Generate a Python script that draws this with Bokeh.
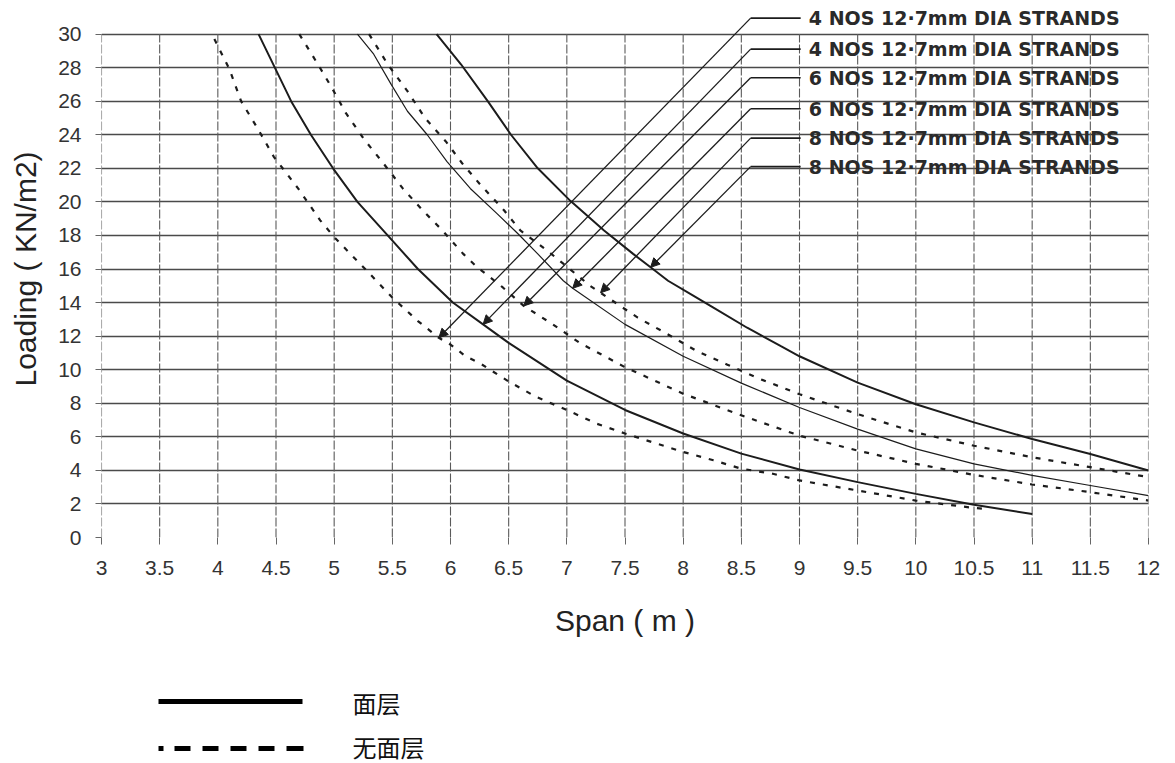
import numpy as np
from bokeh.plotting import figure
from bokeh.models import Range1d, FixedTicker, Arrow, NormalHead, CustomJSTickFormatter
from bokeh.layouts import column
from bokeh.core.properties import value
from bokeh.embed import file_html
from bokeh.resources import INLINE

# ---------------- data ----------------
x_ticks = [3, 3.5, 4, 4.5, 5, 5.5, 6, 6.5, 7, 7.5, 8, 8.5, 9, 9.5, 10, 10.5, 11, 11.5, 12]
y_ticks = [0, 2, 4, 6, 8, 10, 12, 14, 16, 18, 20, 22, 24, 26, 28, 30]

# 4 NOS, with topping (solid)
s4_x = [4.35, 4.49, 4.63, 4.8, 4.99, 5.2, 5.46, 5.72, 6.02, 6.28, 6.5, 7.0, 7.5, 8.0, 8.5, 9.0, 9.5, 10.0, 10.5, 11.0]
s4_y = [30, 28, 26, 24, 22, 20, 18, 16, 14, 12.7, 11.6, 9.35, 7.6, 6.2, 5.0, 4.05, 3.3, 2.6, 1.95, 1.4]
# 4 NOS, without topping (dashed)
d4_x = [3.97, 4.1, 4.2, 4.34, 4.48, 4.69, 4.88, 5.0, 5.28, 5.5, 5.72, 5.9, 6.0, 6.13, 6.26, 6.5, 6.73, 7.0, 7.25,
        7.5, 7.77, 8.0, 8.26, 8.5, 8.77, 9.0, 9.5, 10.0, 10.5, 10.6]
d4_y = [29.7, 27.9, 26, 24.4, 22.7, 20.8, 18.9, 17.9, 15.9, 14.3, 12.9, 11.9, 11.5, 10.8, 10.35, 9.3, 8.4, 7.6, 6.8,
        6.2, 5.6, 5.1, 4.6, 4.1, 3.8, 3.4, 2.8, 2.2, 1.76, 1.7]
# 6 NOS, with topping (solid, thin)
s6_x = [5.2, 5.34, 5.49, 5.63, 5.8, 5.97, 6.17, 6.4, 6.58, 6.75, 6.97, 7.05, 7.5, 8.0, 8.5, 9.0, 9.5, 10.0, 10.5, 11.0, 11.5, 12.0]
s6_y = [30, 28.8, 27.0, 25.4, 24.0, 22.4, 20.8, 19.3, 18.1, 16.9, 15.3, 14.85, 12.7, 10.8, 9.2, 7.75, 6.46, 5.28, 4.39, 3.7, 3.1, 2.5]
# 6 NOS, without topping (dashed)
d6_x = [4.7, 4.86, 4.98, 5.1, 5.26, 5.4, 5.49, 5.59, 5.76, 5.93, 6.11, 6.23, 6.36, 6.45, 6.63, 6.88, 7.11, 7.5, 8.0,
        8.5, 9.0, 9.5, 10.0, 10.5, 11.0, 11.5, 12.0]
d6_y = [30, 28.2, 26.8, 25.3, 23.7, 22.5, 21.7, 20.8, 19.5, 18.3, 16.9, 16.1, 15.4, 14.9, 13.8, 12.7, 11.6, 10.15, 8.57,
        7.28, 6.07, 5.18, 4.39, 3.73, 3.16, 2.7, 2.2]
# 8 NOS, with topping (solid)
s8_x = [5.88, 6.09, 6.32, 6.52, 6.75, 7.03, 7.32, 7.57, 7.72, 7.87, 8.09, 8.26, 8.55, 8.84, 9.0, 9.5, 10.0, 10.5, 11.0, 11.5, 12.0]
s8_y = [30, 28.2, 26, 24, 22, 20.06, 18.3, 16.9, 16.1, 15.3, 14.4, 13.7, 12.5, 11.4, 10.8, 9.23, 7.94, 6.86, 5.87, 4.98, 3.99]
# 8 NOS, without topping (dashed)
d8_x = [5.3, 5.46, 5.63, 5.78, 5.96, 6.1, 6.26, 6.46, 6.6, 6.83, 6.92, 7.2, 7.61, 7.87, 8.12, 8.38, 8.64, 9.0, 9.5,
        10.0, 10.5, 11.0, 11.5, 12.0]
d8_y = [30, 28.2, 26.6, 25, 23.6, 22.3, 21, 19.5, 18.3, 17.1, 16.6, 15.0, 13.1, 12.1, 11.1, 10.3, 9.5, 8.54, 7.35,
        6.26, 5.47, 4.78, 4.19, 3.6]

strand_labels = ["4 NOS 12·7mm DIA STRANDS", "4 NOS 12·7mm DIA STRANDS", "6 NOS 12·7mm DIA STRANDS",
                 "6 NOS 12·7mm DIA STRANDS", "8 NOS 12·7mm DIA STRANDS", "8 NOS 12·7mm DIA STRANDS"]
legend_labels = ["面层", "无面层"]

# ---------------- main figure ----------------
INK = "#1c1c1c"
W = 1168
BL, BR = 101, 20
p = figure(width=W, height=660, x_range=Range1d(3, 12), y_range=Range1d(0, 32.0),
           output_backend="svg", toolbar_location=None,
           min_border_left=BL, min_border_right=BR, min_border_top=0, min_border_bottom=123)
p.outline_line_color = None

p.xgrid.visible = False
p.ygrid.ticker = FixedTicker(ticks=y_ticks)
p.ygrid.grid_line_color = "#4a4a4a"
p.ygrid.grid_line_width = 1.3

# vertical grid lines only up to 30
p.segment(x0=x_ticks, y0=[y_ticks[0]] * len(x_ticks), x1=x_ticks, y1=[y_ticks[-1]] * len(x_ticks),
          line_color="#5a5a5a", line_width=1.1, line_dash="9 2")

p.xaxis.ticker = FixedTicker(ticks=x_ticks)
p.yaxis.ticker = FixedTicker(ticks=y_ticks)
p.xaxis.formatter = CustomJSTickFormatter(code="return String(tick);")
for ax in (p.xaxis[0], p.yaxis[0]):
    ax.axis_line_color = None
    ax.major_tick_line_color = "#666666"
    ax.minor_tick_line_color = None
    ax.major_tick_in = 0
    ax.major_label_text_font = "Liberation Sans"
    ax.major_label_text_font_size = "21px"
    ax.major_label_text_color = "#333333"
    ax.axis_label_text_font = "Liberation Sans"
    ax.axis_label_text_font_style = "normal"
    ax.axis_label_text_color = "#222222"
p.xaxis.major_tick_out = 7
p.xaxis.major_label_standoff = 16
p.yaxis.major_tick_out = 6
p.yaxis.major_label_standoff = 14
p.xaxis.axis_label = "Span ( m )"
p.xaxis.axis_label_text_font_size = "30px"
p.xaxis.axis_label_standoff = 26
p.yaxis.axis_label = "Loading ( KN/m2)"
p.yaxis.axis_label_text_font_size = "30px"
p.yaxis.axis_label_standoff = 13

# curves
p.line(s4_x, s4_y, line_color=INK, line_width=2.0)
p.line(s6_x, s6_y, line_color=INK, line_width=1.2)
p.line(s8_x, s8_y, line_color=INK, line_width=2.0)
p.line(d4_x, d4_y, line_color=INK, line_width=2.2, line_dash="5 8")
p.line(d6_x, d6_y, line_color=INK, line_width=2.2, line_dash="5 8")
p.line(d8_x, d8_y, line_color=INK, line_width=2.2, line_dash="5 8")

# leaders with arrows pointing at the curves
curves_in_label_order = [(d4_x, d4_y), (s4_x, s4_y), (d6_x, d6_y), (s6_x, s6_y), (d8_x, d8_y), (s8_x, s8_y)]
tip_x = [5.9, 6.28, 6.63, 7.05, 7.29, 7.72]
label_y = [30.95, 29.1, 27.4, 25.55, 23.8, 22.1]
corner_x = 8.58
line_end_x = 9.01
text_x = 9.08
for (cx, cy), tx, ly in zip(curves_in_label_order, tip_x, label_y):
    ty = float(np.interp(tx, cx, cy))
    p.add_layout(Arrow(x_start=corner_x, y_start=ly, x_end=tx, y_end=ty, line_color=INK, line_width=1.3,
                       end=NormalHead(size=9, fill_color=INK, line_color=INK)))
p.segment(x0=[corner_x] * len(label_y), y0=label_y, x1=[line_end_x] * len(label_y), y1=label_y,
          line_color=INK, line_width=1.6)
p.text(x=[text_x] * len(label_y), y=label_y, text=strand_labels, text_font=value("DejaVu Sans"),
       text_font_style="bold", text_font_size="19px", text_color="#2a2a2a", text_baseline="middle",
       text_align="left")

# ---------------- legend figure (coordinates = page pixels) ----------------
leg = figure(width=W, height=103, x_range=Range1d(BL, W - BR), y_range=Range1d(763, 660),
             output_backend="svg", toolbar_location=None,
             min_border_left=BL, min_border_right=BR, min_border_top=0, min_border_bottom=0)
leg.axis.visible = False
leg.grid.visible = False
leg.outline_line_color = None
leg.line([158, 302], [701, 701], line_color="black", line_width=5)
leg.line([158, 303], [748, 748], line_color="black", line_width=5, line_dash="5 11 16 12 16 12 16 12 16 12 17")
leg.text(x=[352, 352], y=[702, 746], text=legend_labels, text_font=value("Noto Sans CJK SC"),
         text_font_size="24px", text_color="#111111", text_baseline="middle", text_align="left")

layout = column(p, leg, spacing=0)
open("out.html", "w").write(file_html(layout, INLINE))
